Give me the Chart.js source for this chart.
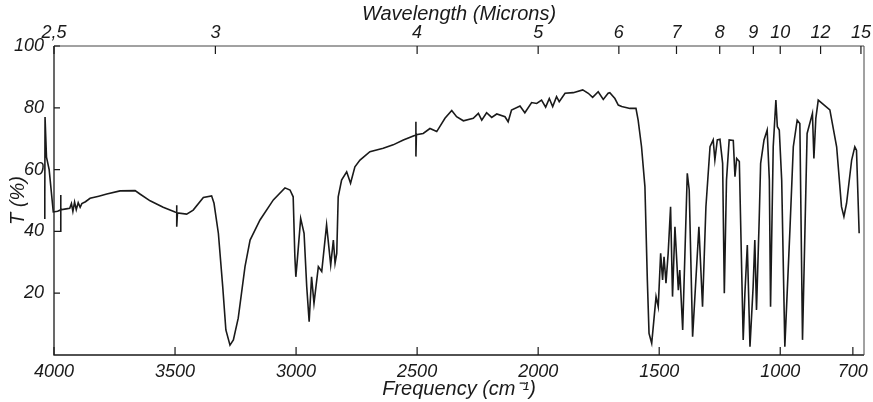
<!DOCTYPE html>
<html><head><meta charset="utf-8">
<script src="https://cdn.jsdelivr.net/npm/chart.js@4.4.1/dist/chart.umd.min.js"></script>
<style>html,body{margin:0;padding:0;background:#fff}#wrap{width:873px;height:402px}</style>
</head><body><div id="wrap"><canvas id="c" width="873" height="402"></canvas></div>
<script>
// Frequency (cm^-1) of each trace point
const wavenumbers = [4038,4038,4037,4031,4020,4003,3985,3972,3972,3972,3972,3950,3935,3928,3922,3915,3908,3900,3892,3885,3870,3851,3815,3782,3727,3665,3645,3603,3549,3500,3493,3493,3493,3490,3452,3425,3383,3349,3339,3321,3303,3290,3273,3259,3239,3211,3190,3149,3094,3046,3025,3012,3005,3001,2995,2981,2967,2956,2946,2936,2926,2908,2894,2874,2857,2846,2839,2832,2826,2812,2791,2775,2757,2736,2695,2640,2599,2557,2505,2505,2505,2503,2475,2447,2419,2385,2357,2337,2309,2268,2247,2233,2213,2192,2171,2137,2124,2110,2075,2055,2027,2006,1986,1969,1954,1940,1924,1913,1889,1855,1816,1793,1775,1752,1731,1711,1704,1683,1669,1655,1642,1621,1596,1587,1573,1559,1549,1542,1531,1522,1513,1504,1494,1486,1480,1472,1463,1453,1445,1435,1421,1415,1403,1384,1376,1362,1336,1321,1307,1290,1277,1270,1260,1249,1238,1231,1222,1211,1194,1187,1180,1169,1159,1153,1146,1136,1125,1112,1105,1098,1087,1081,1067,1054,1045,1040,1029,1018,1012,1004,994,981,960,946,930,919,908,889,867,861,853,843,795,767,747,737,726,705,692,685,674];
// Transmittance (%) of each trace point
const transmittance = [44,51,77,64,60,46.3,46.5,47,51.8,39.8,47,47.3,47.5,49,46.5,49.5,47,49.3,47.8,49,49.6,50.7,51.4,52.1,53.1,53.2,52.1,49.9,47.8,46.3,46.1,48.5,41.5,46,45.6,46.9,51,51.5,49.1,39.4,22.1,8.1,3.2,4.9,11.9,28.6,37.2,43.7,50.2,54.1,53.4,51.2,31.8,25.3,30.7,44.2,39.4,22.1,10.8,25.3,16.7,28.6,27,42.1,29.1,37.2,29.7,32.9,51.2,56.6,59.3,55.6,60.9,63.1,65.8,66.9,68,69.6,71.2,75.5,64.2,71.3,71.7,73.3,72.3,76.6,79.1,77.1,75.8,76.6,78.2,76,78.4,76.9,78,77.1,75.5,79.3,80.6,78.4,81.7,81.4,82.5,80.2,83,80.4,83.6,82,84.7,84.9,85.8,84.7,83.4,85.2,82.7,84.7,84.9,83,80.9,80.4,80.2,79.8,79.8,76,67.4,54.5,24.3,7,3.8,11.3,18.9,15.6,32.9,24.3,31.8,23.2,32.9,48,18.9,41.5,21,27.5,8.1,58.8,53.4,5.9,41.5,15.6,48,67.4,69.6,63.1,69.6,69.8,62,20,56.6,69.6,69.4,57.7,63.6,62.6,26.4,4.9,20,35.6,2.7,22.1,37.2,14.6,43.7,62,69.6,72.8,56.6,15.6,67.4,82.5,73.9,72.8,56.6,2.7,40.5,67.4,76,74.9,4.9,71.7,78.2,63.6,76.6,82.5,79.3,67.4,48,44.8,49.1,63.1,67.4,66.3,39.4];
const frequencyTicks = [4000,3500,3000,2500,2000,1500,1000,700];
const wavelengthTicks = [2.5,3,4,5,6,7,8,9,10,12,15];
const transmittanceTicks = [20,40,60,80,100];

const FONT = "'Liberation Sans Narrow','Liberation Sans',sans-serif";
const INK = '#1a1a1a';

const points = wavenumbers.map((w,i)=>({x:w,y:transmittance[i]}));

const frame = {
  id:'frame',
  afterDraw(chart){
    const {ctx, chartArea:a, scales} = chart;
    ctx.save();
    ctx.strokeStyle = INK;
    ctx.lineWidth = 1.3;
    ctx.beginPath();
    ctx.moveTo(a.left, a.top); ctx.lineTo(a.left, a.bottom); ctx.lineTo(a.right, a.bottom);
    ctx.stroke();
    ctx.lineWidth = 1;
    ctx.strokeStyle = '#444';
    ctx.beginPath();
    ctx.moveTo(a.left, a.top); ctx.lineTo(a.right, a.top); ctx.lineTo(a.right, a.bottom);
    ctx.stroke();
    ctx.strokeStyle = INK;
    ctx.lineWidth = 1.2;
    ctx.beginPath();
    scales.x.ticks.forEach(t=>{const px=scales.x.getPixelForValue(t.value); ctx.moveTo(px,a.bottom); ctx.lineTo(px,a.bottom-8);});
    scales.xTop.ticks.forEach(t=>{const px=scales.xTop.getPixelForValue(t.value); ctx.moveTo(px,a.top); ctx.lineTo(px,a.top+8);});
    scales.y.ticks.forEach(t=>{const py=scales.y.getPixelForValue(t.value); ctx.moveTo(a.left,py); ctx.lineTo(a.left+6,py);});
    ctx.stroke();
    ctx.restore();
  }
};

new Chart(document.getElementById('c'), {
  type:'line',
  data:{datasets:[{data:points, borderColor:INK, borderWidth:1.6, pointRadius:0, tension:0, clip:false, fill:false}]},
  options:{
    responsive:false, animation:false, parsing:true,
    layout:{padding:{left:0,right:9,top:0,bottom:0}},
    plugins:{legend:{display:false}, tooltip:{enabled:false}},
    scales:{
      x:{type:'linear', position:'bottom', reverse:true, min:654, max:4000,
        grid:{display:false, drawTicks:false}, border:{display:false},
        afterBuildTicks:s=>{s.ticks = frequencyTicks.map(v=>({value:v}));},
        afterFit:s=>{s.height=47; s.paddingLeft=0; s.paddingRight=0;},
        ticks:{autoSkip:false, maxRotation:0, padding:6, color:INK, font:{family:FONT, size:18, style:'italic'}, callback:v=>String(v)},
        title:{display:true, text:'Frequency (cm\u207B\u00B9)', color:INK, padding:{top:0,bottom:1}, font:{family:FONT, size:20, style:'italic'}}
      },
      xTop:{type:'linear', position:'top', reverse:true, min:654, max:4000,
        grid:{display:false, drawTicks:false}, border:{display:false},
        afterBuildTicks:s=>{s.ticks = wavelengthTicks.map(l=>({value:10000/l}));},
        afterFit:s=>{s.height=46; s.paddingLeft=0; s.paddingRight=0;},
        ticks:{autoSkip:false, maxRotation:0, padding:2, color:INK, font:{family:FONT, size:18, style:'italic'},
          callback:(v)=>{const l=10000/v; return String(Math.round(l*10)/10).replace('.',',');}},
        title:{display:true, text:'Wavelength (Microns)', color:INK, padding:{top:2,bottom:0}, font:{family:FONT, size:20, style:'italic'}}
      },
      y:{type:'linear', position:'left', min:0, max:100,
        grid:{display:false, drawTicks:false}, border:{display:false},
        afterBuildTicks:s=>{s.ticks = transmittanceTicks.map(v=>({value:v}));},
        afterFit:s=>{s.width=54;},
        ticks:{padding:10, color:INK, font:{family:FONT, size:18, style:'italic'}, callback:v=>String(v)},
        title:{display:true, text:'T (%)', color:INK, padding:{top:6,bottom:0}, font:{family:FONT, size:20, style:'italic'}}
      }
    }
  },
  plugins:[frame]
});
</script></body></html>
